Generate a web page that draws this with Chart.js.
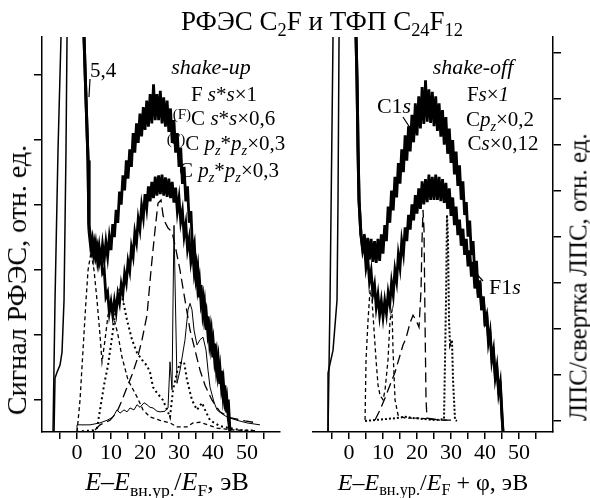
<!DOCTYPE html>
<html>
<head>
<meta charset="utf-8">
<script src="https://cdn.jsdelivr.net/npm/chart.js@4.4.0/dist/chart.umd.min.js"></script>
<style>
  body { margin: 0; background: #fff; }
  #wrap { position: relative; width: 590px; height: 498px; font-family: 'Liberation Serif', 'DejaVu Serif', serif; color: #000; overflow: hidden; }
  .box { position: absolute; top: 0; height: 498px; }
  .t { position: absolute; white-space: nowrap; line-height: 1; transform: translate(-50%, -50%); }
  .rot { transform: translate(-50%, -50%) rotate(-90deg); }
  .lo { font-size: 68%; position: relative; top: 0.32em; }
  .hi { font-size: 72%; position: relative; top: -0.42em; }
  svg { position: absolute; left: 0; top: 0; }
</style>
</head>
<body>
<div id="wrap">
  <div class="box" style="left:0;width:290px"><canvas id="left" width="290" height="498"></canvas></div>
  <div class="box" style="left:290px;width:300px"><canvas id="right" width="300" height="498"></canvas></div>

  <div class="t" style="left:322px;top:21px;font-size:27px">РФЭС C<span class="lo">2</span>F и ТФП C<span class="lo">24</span>F<span class="lo">12</span></div>

  <div class="t" style="left:211px;top:67px;font-size:22px"><i>shake-up</i></div>
  <div class="t" style="left:103px;top:70px;font-size:21px">5,4</div>
  <div class="t" style="left:224px;top:94px;font-size:21px">F <i>s</i>*<i>s</i>×1</div>
  <div class="t" style="left:224px;top:118px;font-size:21px"><span class="hi">(F)</span>C <i>s</i>*<i>s</i>×0,6</div>
  <div class="t" style="left:226px;top:143px;font-size:21px"><span class="hi">(F)</span>C <i>p<span class="lo">z</span></i>*<i>p<span class="lo">z</span></i>×0,3</div>
  <div class="t" style="left:229px;top:170px;font-size:21px">C <i>p<span class="lo">z</span></i>*<i>p<span class="lo">z</span></i>×0,3</div>

  <div class="t" style="left:473px;top:67px;font-size:22px"><i>shake-off</i></div>
  <div class="t" style="left:488px;top:94px;font-size:21px">F<i>s</i>×<i>1</i></div>
  <div class="t" style="left:500px;top:119px;font-size:21px">C<i>p<span class="lo">z</span></i>×0,2</div>
  <div class="t" style="left:503px;top:143px;font-size:21px">C<i>s</i>×0,12</div>
  <div class="t" style="left:394px;top:106px;font-size:22px">C1<i>s</i></div>
  <div class="t" style="left:505px;top:287px;font-size:22px">F1<i>s</i></div>

  <div class="t rot" style="left:17px;top:280px;font-size:28px">Сигнал РФЭС, отн. ед.</div>
  <div class="t rot" style="left:578px;top:277px;font-size:25px">ЛПС/свертка ЛПС, отн. ед.</div>

  <div class="t" style="left:167px;top:482px;font-size:26px"><i>E</i>–<i>E</i><span class="lo">вн.ур.</span>/<i>E</i><span class="lo">F</span>, эВ</div>
  <div class="t" style="left:433px;top:482px;font-size:24px"><i>E</i>–<i>E</i><span class="lo">вн.ур.</span>/<i>E</i><span class="lo">F</span> + φ, эВ</div>

  <svg width="590" height="498">
    <line x1="90" y1="79" x2="89" y2="97" stroke="#000" stroke-width="1.2"/>
    <line x1="403" y1="117" x2="414" y2="134" stroke="#000" stroke-width="1.2"/>
    <line x1="473" y1="270" x2="483" y2="281" stroke="#000" stroke-width="1.2"/>
  </svg>
</div>

<script>
// axis ticks
const xTicks = [-5, 0, 5, 10, 15, 20, 25, 30, 35, 40, 45, 50, 55];
const xLabels = [0, 10, 20, 30, 40, 50];
const yTicksLeft = [0.5, 1.5, 2.5, 3.5, 4.5, 5.5];
const yTicksRight = [0.25, 1.25, 2.25, 3.25, 4.25, 5.25, 6.25, 7.25, 8.25];

// energy grid of the noisy experimental part, eV
const eGrid = [3.5, 4, 4.5, 5, 5.5, 6, 6.5, 7, 7.5, 8,
               8.5, 9, 9.5, 10, 10.5, 11, 11.5, 12, 12.5, 13,
               13.5, 14, 14.5, 15, 15.5, 16, 16.5, 17, 17.5, 18,
               18.5, 19, 19.5, 20, 20.5, 21, 21.5, 22, 22.5, 23,
               23.5, 24, 24.5, 25, 25.5, 26, 26.5, 27, 27.5, 28,
               28.5, 29, 29.5, 30, 30.5, 31, 31.5, 32, 32.5, 33,
               33.5, 34, 34.5, 35, 35.5, 36, 36.5, 37, 37.5, 38,
               38.5, 39, 39.5, 40, 40.5, 41, 41.5, 42, 42.5, 43,
               43.5, 44, 44.5, 45];

// left panel (shake-up): elastic peaks [eV, signal] and noisy signal on eGrid
const leftUpperPeak = [[-7.06,0],[-6.47,2.03],[-5.59,4.34],[-4.71,6.08],[-4.4,9.7],[1.76,9.7],[2.06,6.08],[2.65,5.11],[3.24,4.18]];
const leftUpperSignal = [3.1, 2.85, 2.98, 2.72, 2.9, 2.64, 2.85, 2.6, 2.88, 2.65,
                         2.92, 2.7, 3.0, 2.8, 3.2, 3.0, 3.42, 3.22, 3.7, 3.5,
                         3.95, 3.72, 4.18, 3.9, 4.35, 4.08, 4.6, 4.3, 4.75, 4.45,
                         4.9, 4.55, 5.0, 4.65, 5.1, 4.7, 5.2, 4.75, 5.35, 4.8,
                         5.2, 4.8, 5.25, 4.75, 5.15, 4.7, 5.1, 4.62, 4.98, 4.45,
                         4.8, 4.3, 4.6, 4.08, 4.38, 3.82, 4.08, 3.55, 3.78, 3.22,
                         3.4, 2.78, 2.9, 2.38, 2.55, 2.07, 2.26, 1.82, 2.0, 1.57,
                         1.78, 1.37, 1.56, 1.15, 1.36, 0.95, 1.14, 0.74, 0.94, 0.53,
                         0.72, 0.3, 0.5, 0];
const leftLowerPeak = [[-6.76,0],[-6.47,0.83],[-5.88,0.92],[-5.0,1.03],[-4.41,1.23],[-3.82,2.03],[-3.24,4.34],[-2.94,6.08],[-2.65,9.7],[1.76,9.7],[2.06,6.08],[2.65,5.11],[3.24,4.18]];
const leftLowerSignal = [3.2, 3.0, 2.78, 2.92, 2.7, 2.84, 2.6, 2.74, 2.45, 2.5,
                         2.08, 2.15, 1.84, 2.0, 1.8, 2.02, 1.85, 2.12, 1.99, 2.27,
                         2.13, 2.44, 2.3, 2.62, 2.48, 2.84, 2.7, 3.07, 2.92, 3.28,
                         3.12, 3.48, 3.3, 3.66, 3.45, 3.78, 3.55, 3.85, 3.6, 3.93,
                         3.64, 3.95, 3.66, 3.96, 3.64, 3.92, 3.62, 3.9, 3.6, 3.85,
                         3.53, 3.76, 3.4, 3.6, 3.24, 3.4, 3.02, 3.2, 2.82, 2.98,
                         2.62, 2.78, 2.43, 2.58, 2.2, 2.36, 1.97, 2.1, 1.72, 1.85,
                         1.5, 1.64, 1.28, 1.43, 1.08, 1.23, 0.86, 1.02, 0.66, 0.81,
                         0.45, 0.56, 0.2, 0];

// left panel: theory curves
const leftFss = [[0,0],[0.88,0.49],[1.76,1.26],[2.65,2.03],[3.24,2.49],[4.12,2.77],[5.0,2.49],[5.88,2.03],[6.76,1.49],[7.35,1.08],[8.24,1.42],[9.12,1.8],[10.0,1.95],[10.88,1.75],[12.06,1.49],[13.24,1.15],[15.0,0.8],[17.65,0.54],[19.41,0.34],[21.47,0.23],[24.41,0.18],[27.35,0.14],[29.41,0.08],[32.35,0.08],[34.12,0.14],[36.18,0.15],[38.53,0.11],[41.18,0.06],[46.47,0.03],[52.35,0.02]];
const leftFCss = [[0,0],[2.35,0.02],[4.41,0.02],[5.88,0.06],[6.76,0.34],[7.94,0.72],[9.12,1.03],[10.59,1.57],[11.76,2.03],[12.65,2.23],[13.82,1.95],[14.71,1.72],[16.18,1.42],[17.65,1.22],[19.12,1.11],[20.59,1.02],[21.47,0.92],[22.35,0.69],[23.53,0.6],[25.29,0.49],[27.35,0.23],[28.24,0.65],[29.41,0.92],[30.29,1.06],[31.47,1.08],[32.35,0.8],[33.82,0.49],[35.29,0.34],[36.76,0.45],[37.65,0.34],[39.12,0.18],[42.06,0.09],[47.94,0.03],[52.35,0.02]];
const leftFCpp = [[5.29,0.03],[6.76,0.11],[9.71,0.18],[11.76,0.31],[13.24,0.49],[14.71,0.69],[16.18,0.88],[17.65,1.11],[19.12,1.42],[20.59,1.8],[21.76,2.49],[22.94,3.11],[23.82,3.52],[24.71,3.57],[25.29,3.34],[25.88,3.23],[26.76,3.14],[27.94,3.08],[29.12,2.8],[30.29,2.49],[31.76,2.03],[33.24,1.57],[34.71,1.26],[36.18,0.95],[37.65,0.72],[39.71,0.49],[42.06,0.31],[45,0.22],[49.41,0.17],[52.94,0.14]];
const leftCpp = [[0,0],[0,0.11],[3.82,0.11],[6.76,0.14],[8.82,0.18],[10.59,0.23],[11.76,0.34],[12.65,0.29],[13.82,0.34],[14.71,0.31],[15.59,0.37],[16.76,0.34],[17.65,0.42],[18.53,0.38],[19.71,0.45],[20.59,0.42],[21.47,0.38],[22.35,0.37],[23.53,0.32],[24.41,0.31],[25.88,0.32],[26.76,0.37],[27.35,1.08],[27.94,0.65],[28.24,2.03],[28.53,3.18],[28.82,2.34],[29.41,0.75],[30.29,0.95],[31.76,1.42],[32.65,1.88],[33.24,1.98],[33.82,1.88],[34.41,1.57],[35.29,1.34],[36.18,1.42],[37.06,1.46],[37.94,1.26],[38.53,0.95],[39.12,0.69],[40.29,0.46],[41.18,0.34],[42.65,0.28],[44.12,0.23],[47.06,0.18],[50,0.14],[53.82,0.11]];

// right panel (shake-off): C1s and F1s
const rightC1sPeak = [[-6.18,0],[-5.59,2.87],[-4.71,8.59],[-4.41,13.7],[1.76,13.7],[2.06,8.59],[2.35,7.65],[2.65,6.13],[2.94,5.04]];
const rightC1sSignal = [4.28, 4.0, 4.3, 3.82, 4.22, 3.75, 4.2, 3.7, 4.15, 3.68,
                        4.2, 3.72, 4.3, 3.88, 4.5, 4.15, 4.9, 4.55, 5.25, 4.82,
                        5.55, 5.1, 5.85, 5.4, 6.15, 5.65, 6.45, 5.9, 6.65, 6.1,
                        6.9, 6.3, 7.15, 6.45, 7.3, 6.6, 7.5, 6.7, 7.65, 6.75,
                        7.45, 6.72, 7.4, 6.65, 7.3, 6.55, 7.15, 6.42, 7.0, 6.25,
                        6.85, 6.05, 6.6, 5.85, 6.35, 5.6, 6.1, 5.35, 5.8, 5.05,
                        5.45, 4.72, 5.0, 4.25, 4.6, 3.85, 4.15, 3.42, 3.72, 3.0,
                        3.3, 2.65, 2.95, 2.42, 2.55, 2.05, 2.12, 1.62, 1.72, 1.25,
                        1.38, 0.92, 1.0, 0.3];
const rightF1sPeak = [[-6.18,0],[-6.18,1.28],[-4.71,1.78],[-3.53,2.87],[-3.24,5.04],[-2.94,8.59],[-2.65,13.7],[1.76,13.7],[2.06,8.59],[2.35,7.65],[2.65,6.13],[2.94,5.04]];
const rightF1sSignal = [4.28, 3.95, 4.12, 3.58, 3.8, 3.28, 3.5, 3.0, 3.2, 2.72,
                        2.98, 2.55, 2.85, 2.5, 2.85, 2.58, 3.02, 2.78, 3.25, 2.98,
                        3.52, 3.28, 3.85, 3.58, 4.15, 3.88, 4.45, 4.15, 4.72, 4.4,
                        4.95, 4.6, 5.15, 4.75, 5.3, 4.85, 5.45, 4.95, 5.5, 5.0,
                        5.6, 5.05, 5.55, 5.05, 5.6, 5.05, 5.55, 5.02, 5.5, 4.98,
                        5.42, 4.85, 5.3, 4.7, 5.1, 4.5, 4.9, 4.28, 4.62, 4.05,
                        4.42, 3.85, 4.2, 3.6, 3.95, 3.38, 3.7, 3.12, 3.48, 2.92,
                        3.25, 2.65, 2.92, 2.3, 2.6, 1.95, 2.18, 1.55, 1.78, 1.18,
                        1.42, 0.85, 1.08, 0.4];
const rightTail = [[45.3, 0]];

// right panel: theory curves
const rightFs = [[4.71,0.26],[5.0,1.57],[5.59,2.43],[6.18,3.09],[6.76,2.87],[7.35,2.22],[7.94,1.57],[8.53,1.02],[9.12,0.8],[10,0.7],[10.59,0.91],[11.47,1.57],[12.06,2.43],[12.65,2.65],[12.94,1.78],[13.53,0.7],[14.41,0.37],[16.47,0.3],[20.88,0.3],[26.76,0.26],[29.71,0.26]];
const rightCpz = [[7.65,0.26],[9.12,0.48],[10.59,0.74],[12.06,1.02],[13.53,1.3],[15,1.67],[15.88,1.89],[16.76,2.04],[17.94,2.37],[18.82,2.54],[19.71,2.43],[20.59,2.28],[21.18,3.09],[21.47,4.17],[21.76,4.83],[22.06,4.39],[22.35,2.43],[22.65,0.7],[22.94,0.3],[26.76,0.26],[31.18,0.26]];
const rightCs = [[4.71,0.24],[7.65,0.26],[10.59,0.28],[13.53,0.3],[16.47,0.33],[19.41,0.3],[22.35,0.28],[25.29,0.26],[27.94,0.28],[28.53,2.87],[28.82,4.72],[29.12,4.17],[29.41,2.43],[29.71,1.89],[30.29,2.0],[30.59,1.13],[31.18,0.26],[31.76,0.24]];

const FONT = "'Liberation Serif', 'DejaVu Serif', serif";

function spectrum(peak, signal, tail) {
    let pts = peak.slice();
    eGrid.forEach((e, i) => pts.push([e, signal[i]]));
    return pts.concat(tail || []);
}

// elastic rise thin, fall medium, noisy part as dense zigzag
function expWidth(ctx) {
    let x0 = ctx.p0.parsed.x, x1 = ctx.p1.parsed.x;
    if (x1 <= 0) return 1.5;
    if (x0 < 3.4) return 3;
    return 2.8;
}

function expSet(data) {
    return { data: data, borderColor: '#000', borderWidth: 2.8, pointRadius: 0, tension: 0,
             borderJoinStyle: 'miter', segment: { borderWidth: expWidth } };
}

function theorySet(data, dash, width) {
    return { data: data, borderColor: '#000', borderWidth: width, borderDash: dash,
             pointRadius: 0, tension: 0 };
}

function makeChart(id, datasets, xMin, xMax, yMax, yTicks, yPos, pad, yWidth) {
    let ctx = document.getElementById(id).getContext('2d');
    return new Chart(ctx, {
        type: 'line',
        data: { datasets: datasets },
        options: {
            responsive: false,
            animation: false,
            devicePixelRatio: 1,
            parsing: { xAxisKey: 0, yAxisKey: 1 },
            layout: { padding: pad, autoPadding: false },
            plugins: { legend: { display: false }, tooltip: { enabled: false } },
            scales: {
                x: {
                    type: 'linear', min: xMin, max: xMax,
                    afterBuildTicks: s => { s.ticks = xTicks.map(v => ({ value: v })); },
                    afterFit: s => { s.height = 66; },
                    grid: { drawOnChartArea: false, drawTicks: true, tickLength: 7, color: '#000', lineWidth: 1.5 },
                    border: { display: true, color: '#000', width: 1.5 },
                    ticks: {
                        color: '#000', padding: 1, maxRotation: 0, autoSkip: false,
                        font: { family: FONT, size: 22 },
                        callback: v => xLabels.includes(v) ? String(v) : ''
                    }
                },
                y: {
                    type: 'linear', position: yPos, min: 0, max: yMax,
                    afterBuildTicks: s => { s.ticks = yTicks.map(v => ({ value: v })); },
                    afterFit: s => { s.width = yWidth; },
                    grid: { drawOnChartArea: false, drawTicks: true, tickLength: 8, color: '#000', lineWidth: 1.5 },
                    border: { display: true, color: '#000', width: 1.5 },
                    ticks: { display: false }
                }
            }
        }
    });
}

makeChart('left', [
    expSet(spectrum(leftUpperPeak, leftUpperSignal)),
    expSet(spectrum(leftLowerPeak, leftLowerSignal)),
    theorySet(leftFss, [4, 3], 1.3),
    theorySet(leftFCss, [2, 3], 2),
    theorySet(leftFCpp, [10, 5], 1.3),
    theorySet(leftCpp, [], 1)
], -10.3, 59.7, 6.08, yTicksLeft, 'left', { left: 0, top: 37, right: 10, bottom: 0 }, 42);

makeChart('right', [
    expSet(spectrum(rightC1sPeak, rightC1sSignal, rightTail)),
    expSet(spectrum(rightF1sPeak, rightF1sSignal, rightTail)),
    theorySet(rightFs, [4, 3], 1.3),
    theorySet(rightCpz, [10, 5], 1.3),
    theorySet(rightCs, [2, 2], 2)
], -10.6, 60, 8.59, yTicksRight, 'right', { left: 23, top: 37, right: 0, bottom: 0 }, 37);
</script>
</body>
</html>
